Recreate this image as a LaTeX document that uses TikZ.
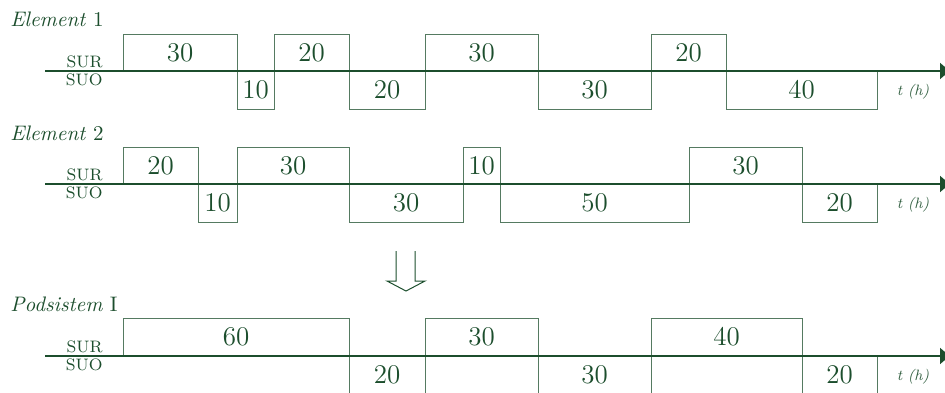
\documentclass[tikz,border=0pt]{standalone}
\usetikzlibrary{arrows.meta}
\definecolor{dg}{RGB}{28,78,45}
\begin{document}
\begin{tikzpicture}[x=0.5pt,y=-0.5pt,
  axisline/.style={draw=dg, line width=0.7pt, -{Latex[length=6pt,width=8.5pt]}},
  cell/.style={draw=dg!75, line width=0.5pt, text=dg, font=\fontsize{13.5}{14}\selectfont, inner sep=0pt, outer sep=0pt},
  side/.style={text=dg, font=\fontsize{8.3}{9}\selectfont, anchor=east, inner sep=0pt},
  ttl/.style={text=dg, font=\fontsize{10.5}{12}\selectfont, anchor=base west, inner sep=0pt},
  unit/.style={text=dg!90, font=\fontsize{7.5}{8}\selectfont, inner sep=0pt},
  bigarrow/.style={draw=dg, line width=0.5pt}]
\useasboundingbox (0,0) rectangle (945,392);

% Element 1
\node[ttl] (t1) at (10,26.7) {\textit{Element} 1};
\foreach \a/\b/\yt/\yb/\l [count=\i] in {123/237/34/71/30, 237/274/71/109/10, 274/349/34/71/20, 349/425/71/109/20, 425/538/34/71/30, 538/651/71/109/30, 651/726/34/71/20, 726/877/71/109/40}{
  \pgfmathsetmacro\w{(\b-\a)*0.5}\pgfmathsetmacro\h{(\yb-\yt)*0.5}
  \node[cell, minimum width=\w pt, minimum height=\h pt, anchor=north west] (ea\i) at (\a,\yt) {\l};
}
\coordinate (a1s) at (45,71);
\coordinate (a1e) at (952,71);
\draw[axisline] (a1s) -- (a1e);
\node[side] (sur1) at (103,62) {SUR};
\node[side] (suo1) at (103,80) {SUO};
\node[unit] (u1) at (913,91.5) {\textit{t (h)}};

% Element 2
\node[ttl] (t2) at (10,140) {\textit{Element} 2};
\foreach \a/\b/\yt/\yb/\l [count=\i] in {123/198/147/184/20, 198/237/184/222/10, 237/349/147/184/30, 349/463/184/222/30, 463/500/147/184/10, 500/689/184/222/50, 689/802/147/184/30, 802/877/184/222/20}{
  \pgfmathsetmacro\w{(\b-\a)*0.5}\pgfmathsetmacro\h{(\yb-\yt)*0.5}
  \node[cell, minimum width=\w pt, minimum height=\h pt, anchor=north west] (eb\i) at (\a,\yt) {\l};
}
\coordinate (a2s) at (45,184);
\coordinate (a2e) at (952,184);
\draw[axisline] (a2s) -- (a2e);
\node[side] (sur2) at (103,175) {SUR};
\node[side] (suo2) at (103,193) {SUO};
\node[unit] (u2) at (913,205) {\textit{t (h)}};

% down arrow
\draw[bigarrow] (396,251) -- (396,281) -- (387,281) -- (406,291) -- (425,281) -- (415,281) -- (415,251);

% Podsistem I
\node[ttl] (t3) at (10,311.7) {\textit{Podsistem} I};
\foreach \a/\b/\yt/\yb/\l [count=\i] in {123/349/318/356/60, 349/425/356/394/20, 425/538/318/356/30, 538/651/356/394/30, 651/802/318/356/40, 802/877/356/394/20}{
  \pgfmathsetmacro\w{(\b-\a)*0.5}\pgfmathsetmacro\h{(\yb-\yt)*0.5}
  \node[cell, minimum width=\w pt, minimum height=\h pt, anchor=north west] (ec\i) at (\a,\yt) {\l};
}
\coordinate (a3s) at (45,356);
\coordinate (a3e) at (952,356);
\draw[axisline] (a3s) -- (a3e);
\node[side] (sur3) at (103,347) {SUR};
\node[side] (suo3) at (103,365) {SUO};
\node[unit] (u3) at (913,377) {\textit{t (h)}};
\end{tikzpicture}
\end{document}
